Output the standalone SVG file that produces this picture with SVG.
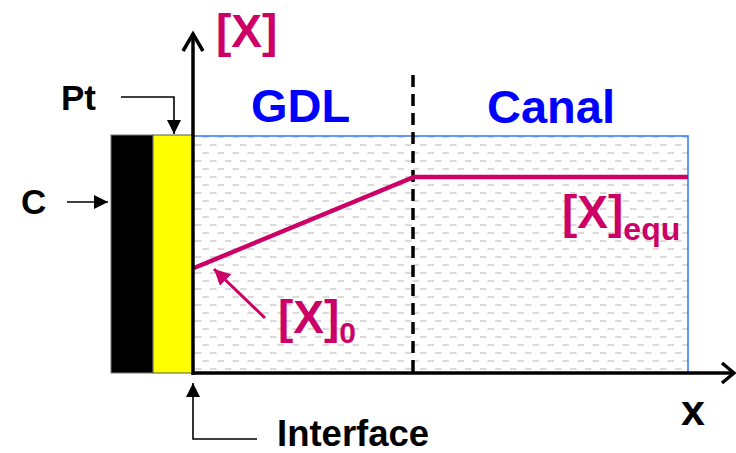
<svg xmlns="http://www.w3.org/2000/svg" width="736" height="453" viewBox="0 0 736 453">
<style>
.lbl{font-family:"Liberation Sans",Arial,sans-serif;font-weight:bold}
.blk{fill:#000}
.mag{fill:#CC0066}
.blu{fill:#0000FF}
.thin{stroke:#000;stroke-width:1.6;fill:none}
</style>
<defs>
<pattern id="dash" x="193" y="137" width="15" height="16" patternUnits="userSpaceOnUse">
<line x1="2" y1="8" x2="8.5" y2="8" stroke="#dadada" stroke-width="2"/>
<line x1="9.5" y1="16" x2="16" y2="16" stroke="#dadada" stroke-width="2"/>
<line x1="-5.5" y1="16" x2="1" y2="16" stroke="#dadada" stroke-width="2"/>
<line x1="9.5" y1="0" x2="16" y2="0" stroke="#dadada" stroke-width="2"/>
<line x1="-5.5" y1="0" x2="1" y2="0" stroke="#dadada" stroke-width="2"/>
</pattern>
<marker id="tri" viewBox="0 0 10 10" refX="10" refY="5" markerWidth="14" markerHeight="14" markerUnits="userSpaceOnUse" orient="auto">
<path d="M0,0 L10,5 L0,10 z" fill="#000"/>
</marker>
<marker id="triM" viewBox="0 0 10 10" refX="10" refY="5" markerWidth="16" markerHeight="16" markerUnits="userSpaceOnUse" orient="auto">
<path d="M0,0 L10,5 L0,10 z" fill="#CC0066"/>
</marker>
</defs>
<rect width="736" height="453" fill="#fff"/>
<g id="electrode">
<rect x="111" y="135" width="42" height="238" fill="#000" stroke="#777" stroke-width="1"/>
<rect x="153" y="135" width="40" height="238" fill="#FFFF00" stroke="#555" stroke-width="1"/>
</g>
<g id="region">
<rect x="193" y="136" width="495" height="237" fill="#fff" stroke="none"/>
<rect x="193" y="136" width="495" height="237" fill="url(#dash)" stroke="#3377FF" stroke-width="1.5"/>
<line x1="413" y1="75" x2="413" y2="373" stroke="#000" stroke-width="3.5" stroke-dasharray="12,7"/>
</g>
<g id="profile">
<polyline points="194,268 414,177 688,177" fill="none" stroke="#CC0066" stroke-width="4.5"/>
</g>
<g id="axes">
<line x1="193" y1="375" x2="193" y2="33" stroke="#000" stroke-width="3.5"/>
<polyline points="183,51 193,34 203,51" fill="none" stroke="#000" stroke-width="3.5"/>
<line x1="193" y1="373" x2="733" y2="373" stroke="#000" stroke-width="3.5"/>
<polyline points="722,363 734,373 722,383" fill="none" stroke="#000" stroke-width="3.5"/>
</g>
<g id="connectors">
<polyline class="thin" points="121,97 174,97 174,134" marker-end="url(#tri)"/>
<line class="thin" x1="67" y1="202" x2="108" y2="202" marker-end="url(#tri)"/>
<polyline class="thin" points="257,439 193,439 193,383" marker-end="url(#tri)"/>
<line x1="265" y1="318" x2="214" y2="269" stroke="#CC0066" stroke-width="3" marker-end="url(#triM)"/>
</g>
<g id="labels">
<text class="lbl mag" x="216" y="47" font-size="46">[X]</text>
<text class="lbl blu" x="251" y="122" font-size="47">GDL</text>
<text class="lbl blu" x="487" y="123" font-size="47">Canal</text>
<text class="lbl blk" x="61" y="110" font-size="35">Pt</text>
<text class="lbl blk" x="21" y="214" font-size="35">C</text>
<text class="lbl blk" x="277" y="446" font-size="36.5">Interface</text>
<text class="lbl blk" x="681" y="425" font-size="43">x</text>
<text class="lbl mag" x="562" y="228" font-size="46">[X]<tspan font-size="32" y="240">equ</tspan></text>
<text class="lbl mag" x="278" y="333" font-size="46">[X]<tspan font-size="30" y="343">0</tspan></text>
</g>
</svg>
